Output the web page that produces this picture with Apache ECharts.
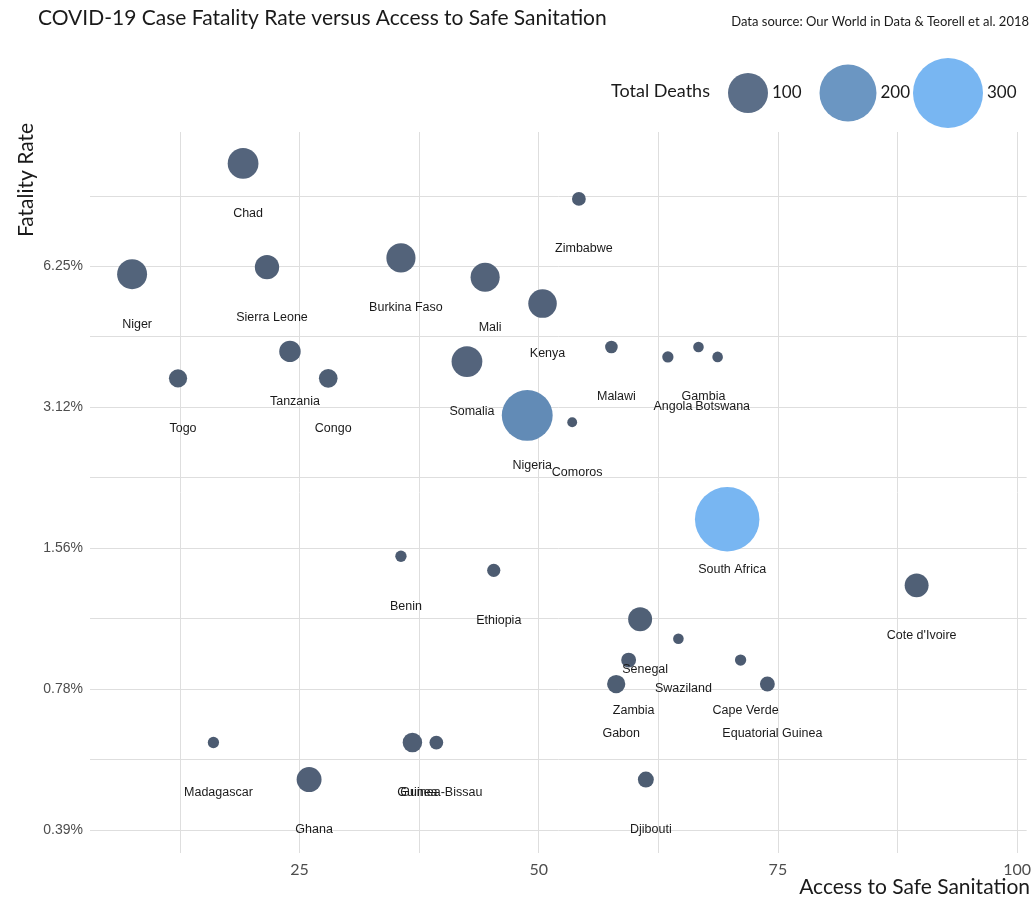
<!DOCTYPE html>
<html>
<head>
<meta charset="utf-8">
<script src="https://cdn.jsdelivr.net/npm/echarts@6.0.0/dist/echarts.min.js"></script>
<style>
html, body { margin: 0; padding: 0; background: #fff; }
#chart { width: 1034px; height: 902px; }
</style>
</head>
<body>
<div id="chart"></div>
<script>
// DATA: one entry per country, same order in every array
const countries = [
    'Chad', 'Niger', 'Sierra Leone', 'Burkina Faso', 'Mali', 'Kenya', 'Tanzania', 'Somalia',
    'Togo', 'Congo', 'Nigeria', 'Zimbabwe', 'Malawi', 'Angola', 'Gambia', 'Botswana',
    'Comoros', 'Benin', 'Ethiopia', 'Madagascar', 'Ghana', 'Guinea', 'Guinea-Bissau', 'South Africa',
    "Cote d'Ivoire", 'Senegal', 'Swaziland', 'Zambia', 'Cape Verde', 'Gabon', 'Equatorial Guinea', 'Djibouti'
];
// access to safe sanitation (%)
const sanitation = [
    19.1, 7.5, 21.6, 35.6, 44.4, 50.4, 24.0, 42.5,
    12.3, 28.0, 48.8, 54.2, 57.6, 63.5, 66.7, 68.7,
    53.5, 35.6, 45.3, 16.0, 26.0, 36.8, 39.3, 69.7,
    89.5, 60.6, 64.6, 59.4, 71.1, 58.1, 73.9, 61.2
];
// case fatality rate (fraction of cases)
const fatality = [
    0.1036, 0.0601, 0.0622, 0.0651, 0.0592, 0.0520, 0.0411, 0.0391,
    0.0360, 0.0360, 0.0300, 0.0870, 0.0420, 0.0400, 0.0420, 0.0400,
    0.0290, 0.0150, 0.0140, 0.0060, 0.0050, 0.0060, 0.0060, 0.0180,
    0.0130, 0.0110, 0.0100, 0.0090, 0.0090, 0.0080, 0.0080, 0.0050
];
// total deaths
const deaths = [
    60, 57, 38, 54, 54, 52, 30, 60,
    22, 23, 160, 13, 11, 9, 8, 8,
    7, 9, 12, 9, 40, 25, 13, 255,
    37, 37, 8, 15, 9, 22, 15, 17
];

// axis ticks and labels
const xGridValues = [12.5, 25, 37.5, 50, 62.5, 75, 87.5, 100];
const xLabelValues = [25, 50, 75, 100];
const yGridValues = [0.00390625, 0.0055243, 0.0078125, 0.0110485, 0.015625, 0.0220971, 0.03125, 0.0441942, 0.0625, 0.0883883];
const yLabelValues = [0.00390625, 0.0078125, 0.015625, 0.03125, 0.0625];
const yLabelText = ['0.39%', '0.78%', '1.56%', '3.12%', '6.25%'];

// size legend
const legendDeaths = [100, 200, 300];

// bubble diameter from death count
function bubble(v) {
    return 4.1 * Math.sqrt(v) - 1;
}

const chart = echarts.init(document.getElementById('chart'), null, { renderer: 'canvas' });

const option = {
    backgroundColor: '#fff',
    animation: false,
    title: [
        {
            text: 'COVID-19 Case Fatality Rate versus Access to Safe Sanitation',
            left: 38, top: 8, padding: 0,
            textStyle: { fontFamily: 'Lato', fontSize: 21, fontWeight: 'normal', color: '#1a1a1a' }
        },
        {
            text: 'Data source: Our World in Data & Teorell et al. 2018',
            right: 5, top: 15, padding: 0,
            textStyle: { fontFamily: 'Lato', fontSize: 13, fontWeight: 'normal', color: '#1a1a1a' }
        },
        {
            text: 'Total Deaths',
            left: 611, top: 82, padding: 0,
            textStyle: { fontFamily: 'Lato', fontSize: 18, fontWeight: 'normal', color: '#1a1a1a' }
        }
    ],
    graphic: [
        {
            type: 'text', x: 26, y: 180, rotation: Math.PI / 2,
            style: { text: 'Fatality Rate', font: '21px Lato', fill: '#1a1a1a', align: 'center', verticalAlign: 'middle' }
        },
        {
            type: 'text', right: 4, top: 877,
            style: { text: 'Access to Safe Sanitation', font: '21px Lato', fill: '#1a1a1a' }
        }
    ],
    grid: [
        { left: 90, right: 6, top: 132, bottom: 49 },
        { left: 698, width: 300, top: 58, height: 70 }
    ],
    visualMap: {
        type: 'continuous',
        show: false,
        dimension: 2,
        seriesIndex: [0, 1],
        min: 0,
        max: 250,
        inRange: { color: ['#4b5a6f', '#526279', '#5b6e88', '#6088b3', '#6b96c2', '#78b6f2'] }
    },
    xAxis: [
        {
            type: 'value', gridIndex: 0, min: 3.1, max: 101,
            axisLine: { show: false },
            axisTick: { show: false, customValues: xGridValues },
            axisLabel: { customValues: xLabelValues, margin: 9, fontFamily: 'Lato', fontSize: 16, color: '#4d4d4d' },
            splitLine: { show: true, lineStyle: { color: '#dedede', width: 1 } }
        },
        { type: 'category', gridIndex: 1, data: legendDeaths, show: false }
    ],
    yAxis: [
        {
            type: 'log', logBase: 2, gridIndex: 0,
            min: Math.pow(2, -8.165), max: Math.pow(2, -3.0475),
            axisLine: { show: false },
            axisTick: { show: false, customValues: yGridValues },
            axisLabel: {
                customValues: yLabelValues, margin: 7,
                fontFamily: 'Liberation Sans', fontSize: 14, color: '#4d4d4d',
                formatter: function (v) {
                    const i = yLabelValues.findIndex(t => Math.abs(t - v) / t < 1e-3);
                    return i >= 0 ? yLabelText[i] : '';
                }
            },
            splitLine: { show: true, lineStyle: { color: '#dedede', width: 1 } }
        },
        { type: 'value', gridIndex: 1, min: -1, max: 1, show: false }
    ],
    series: [
        {
            type: 'scatter',
            xAxisIndex: 0, yAxisIndex: 0,
            data: countries.map((c, i) => [sanitation[i], fatality[i], deaths[i], c]),
            symbolSize: val => bubble(val[2]),
            itemStyle: { opacity: 1 },
            label: {
                show: true,
                position: 'inside',
                offset: [5, 50],
                formatter: p => p.data[3],
                fontFamily: 'Liberation Sans',
                fontSize: 12.5,
                color: '#1a1a1a',
                textBorderWidth: 0,
                textBorderColor: 'transparent'
            },
            emphasis: { disabled: true },
            silent: true
        },
        {
            type: 'scatter',
            xAxisIndex: 1, yAxisIndex: 1,
            data: legendDeaths.map((d, i) => [i, 0, d]),
            symbolSize: val => bubble(val[2]),
            itemStyle: { opacity: 1 },
            label: {
                show: true,
                position: 'right',
                distance: 4,
                formatter: p => String(p.data[2]),
                fontFamily: 'Lato',
                fontSize: 17,
                color: '#1a1a1a'
            },
            emphasis: { disabled: true },
            silent: true
        }
    ]
};

chart.setOption(option);
</script>
</body>
</html>
